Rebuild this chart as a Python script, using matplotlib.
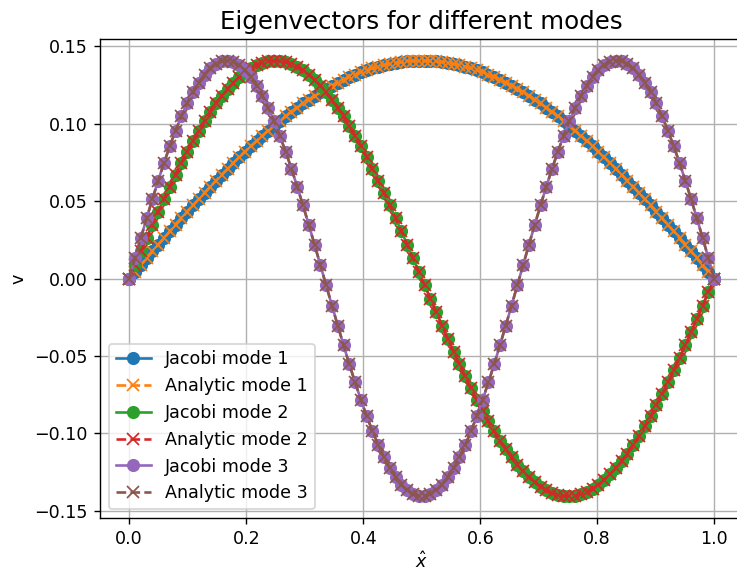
import numpy as np
import matplotlib
matplotlib.use('Agg')
import matplotlib.pyplot as plt

# grid points x_hat (102 points incl. boundaries)
x_hat = [0.0000, 0.0099, 0.0198, 0.0297, 0.0396, 0.0495, 0.0594, 0.0693, 0.0792, 0.0891,
         0.0990, 0.1089, 0.1188, 0.1287, 0.1386, 0.1485, 0.1584, 0.1683, 0.1782, 0.1881,
         0.1980, 0.2079, 0.2178, 0.2277, 0.2376, 0.2475, 0.2574, 0.2673, 0.2772, 0.2871,
         0.2970, 0.3069, 0.3168, 0.3267, 0.3366, 0.3465, 0.3564, 0.3663, 0.3762, 0.3861,
         0.3960, 0.4059, 0.4158, 0.4257, 0.4356, 0.4455, 0.4554, 0.4653, 0.4752, 0.4851,
         0.4950,
         0.5050, 0.5149, 0.5248, 0.5347, 0.5446, 0.5545, 0.5644, 0.5743, 0.5842, 0.5941,
         0.6040, 0.6139, 0.6238, 0.6337, 0.6436, 0.6535, 0.6634, 0.6733, 0.6832, 0.6931,
         0.7030, 0.7129, 0.7228, 0.7327, 0.7426, 0.7525, 0.7624, 0.7723, 0.7822, 0.7921,
         0.8020, 0.8119, 0.8218, 0.8317, 0.8416, 0.8515, 0.8614, 0.8713, 0.8812, 0.8911,
         0.9010, 0.9109, 0.9208, 0.9307, 0.9406, 0.9505, 0.9604, 0.9703, 0.9802, 0.9901,
         1.0000]

mode1 = [0.0000, 0.0044, 0.0087, 0.0131, 0.0175, 0.0218, 0.0261, 0.0304, 0.0347, 0.0389,
         0.0431, 0.0472, 0.0513, 0.0554, 0.0594, 0.0633, 0.0672, 0.0710, 0.0747, 0.0784,
         0.0820, 0.0855, 0.0890, 0.0923, 0.0956, 0.0987, 0.1018, 0.1048, 0.1076, 0.1104,
         0.1131, 0.1156, 0.1181, 0.1204, 0.1226, 0.1247, 0.1266, 0.1285, 0.1302, 0.1318,
         0.1333, 0.1346, 0.1358, 0.1369, 0.1379, 0.1387, 0.1393, 0.1399, 0.1403, 0.1406,
         0.1407,
         0.1407, 0.1406, 0.1403, 0.1399, 0.1393, 0.1387, 0.1379, 0.1369, 0.1358, 0.1346,
         0.1333, 0.1318, 0.1302, 0.1285, 0.1266, 0.1247, 0.1226, 0.1204, 0.1181, 0.1156,
         0.1131, 0.1104, 0.1076, 0.1048, 0.1018, 0.0987, 0.0956, 0.0923, 0.0890, 0.0855,
         0.0820, 0.0784, 0.0747, 0.0710, 0.0672, 0.0633, 0.0594, 0.0554, 0.0513, 0.0472,
         0.0431, 0.0389, 0.0347, 0.0304, 0.0261, 0.0218, 0.0175, 0.0131, 0.0087, 0.0044,
         0.0000]

mode2 = [0.0000, 0.0087, 0.0175, 0.0261, 0.0347, 0.0431, 0.0513, 0.0594, 0.0672, 0.0747,
         0.0820, 0.0890, 0.0956, 0.1018, 0.1076, 0.1131, 0.1181, 0.1226, 0.1266, 0.1302,
         0.1333, 0.1358, 0.1379, 0.1393, 0.1403, 0.1407, 0.1406, 0.1399, 0.1387, 0.1369,
         0.1346, 0.1318, 0.1285, 0.1247, 0.1204, 0.1156, 0.1104, 0.1048, 0.0987, 0.0923,
         0.0855, 0.0784, 0.0710, 0.0633, 0.0554, 0.0472, 0.0389, 0.0304, 0.0218, 0.0131,
         0.0044,
         -0.0044, -0.0131, -0.0218, -0.0304, -0.0389, -0.0472, -0.0554, -0.0633, -0.0710, -0.0784,
         -0.0855, -0.0923, -0.0987, -0.1048, -0.1104, -0.1156, -0.1204, -0.1247, -0.1285, -0.1318,
         -0.1346, -0.1369, -0.1387, -0.1399, -0.1406, -0.1407, -0.1403, -0.1393, -0.1379, -0.1358,
         -0.1333, -0.1302, -0.1266, -0.1226, -0.1181, -0.1131, -0.1076, -0.1018, -0.0956, -0.0890,
         -0.0820, -0.0747, -0.0672, -0.0594, -0.0513, -0.0431, -0.0347, -0.0261, -0.0175, -0.0087,
         0.0000]

mode3 = [0.0000, 0.0131, 0.0261, 0.0389, 0.0513, 0.0633, 0.0747, 0.0855, 0.0956, 0.1048,
         0.1131, 0.1204, 0.1266, 0.1318, 0.1358, 0.1387, 0.1403, 0.1407, 0.1399, 0.1379,
         0.1346, 0.1302, 0.1247, 0.1181, 0.1104, 0.1018, 0.0923, 0.0820, 0.0710, 0.0594,
         0.0472, 0.0347, 0.0218, 0.0087, -0.0044, -0.0175, -0.0304, -0.0431, -0.0554, -0.0672,
         -0.0784, -0.0890, -0.0987, -0.1076, -0.1156, -0.1226, -0.1285, -0.1333, -0.1369, -0.1393,
         -0.1406,
         -0.1406, -0.1393, -0.1369, -0.1333, -0.1285, -0.1226, -0.1156, -0.1076, -0.0987, -0.0890,
         -0.0784, -0.0672, -0.0554, -0.0431, -0.0304, -0.0175, -0.0044, 0.0087, 0.0218, 0.0347,
         0.0472, 0.0594, 0.0710, 0.0820, 0.0923, 0.1018, 0.1104, 0.1181, 0.1247, 0.1302,
         0.1346, 0.1379, 0.1399, 0.1407, 0.1403, 0.1387, 0.1358, 0.1318, 0.1266, 0.1204,
         0.1131, 0.1048, 0.0956, 0.0855, 0.0747, 0.0633, 0.0513, 0.0389, 0.0261, 0.0131,
         0.0000]

jacobi = [mode1, mode2, mode3]
analytic = [mode1, mode2, mode3]

DPI = 126
fig = plt.figure(figsize=(737/DPI, 573/DPI), dpi=DPI)
ax = fig.add_axes([100/737, 1 - 518/573, 643.5/737, 479/573])

for k in range(3):
    ax.plot(x_hat, jacobi[k], '-o', markersize=6.5, label='Jacobi mode %d' % (k+1))
    ax.plot(x_hat, analytic[k], '--x', markersize=6.5, label='Analytic mode %d' % (k+1))

ax.set_title('Eigenvectors for different modes', fontsize=14)
ax.set_xlabel(r'$\hat{x}$', labelpad=1.5)
ax.set_ylabel('v')
ax.grid()
ax.legend(loc='lower left')

fig.savefig('out.png', dpi=DPI)
